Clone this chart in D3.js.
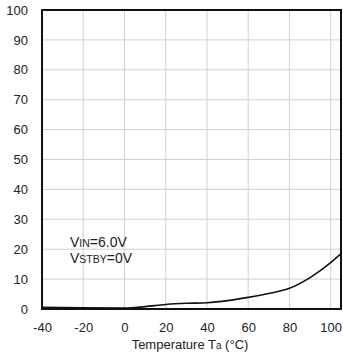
<!DOCTYPE html>
<html>
<head>
<meta charset="utf-8">
<script src="https://cdn.jsdelivr.net/npm/d3@7"></script>
<style>
body { margin: 0; background: #fff; }
text { font-family: "Liberation Sans", Arial, sans-serif; fill: #222; }
</style>
</head>
<body>
<svg width="343" height="354"></svg>
<script>
// curve values
var temps = [-40, -20, 0, 10, 20, 30, 40, 50, 60, 70, 80, 90, 100, 105];
var current = [0.6, 0.4, 0.3, 0.8, 1.5, 1.9, 2.1, 2.8, 3.9, 5.2, 6.9, 10.5, 15.5, 18.5];
var xTicks = [-40, -20, 0, 20, 40, 60, 80, 100];
var yTicks = [0, 10, 20, 30, 40, 50, 60, 70, 80, 90, 100];

var svg = d3.select("svg"),
    plotLeft = 42, plotRight = 341, plotTop = 10, plotBottom = 309;

var x = d3.scaleLinear().domain([-40, 105]).range([plotLeft, plotRight]);
var y = d3.scaleLinear().domain([0, 100]).range([plotBottom, plotTop]);

// grid
svg.append("g")
    .selectAll("line")
    .data(xTicks.slice(1))
    .enter().append("line")
    .attr("x1", function(d) { return x(d); })
    .attr("x2", function(d) { return x(d); })
    .attr("y1", plotTop).attr("y2", plotBottom)
    .attr("stroke", "#d0d0d0").attr("stroke-width", 1);

svg.append("g")
    .selectAll("line")
    .data(yTicks.slice(1, -1))
    .enter().append("line")
    .attr("x1", plotLeft).attr("x2", plotRight)
    .attr("y1", function(d) { return y(d); })
    .attr("y2", function(d) { return y(d); })
    .attr("stroke", "#d0d0d0").attr("stroke-width", 1);

// axes (labels only, frame drawn separately); plain hyphen for negatives
var xAxis = svg.append("g")
    .attr("transform", "translate(0," + plotBottom + ")")
    .call(d3.axisBottom(x).tickValues(xTicks).tickFormat(String).tickSize(0).tickPadding(14));
var yAxis = svg.append("g")
    .attr("transform", "translate(" + plotLeft + ",0)")
    .call(d3.axisLeft(y).tickValues(yTicks).tickFormat(String).tickSize(0).tickPadding(14));
[xAxis, yAxis].forEach(function(a) {
    a.select(".domain").remove();
    a.selectAll("text").attr("font-size", 13).attr("fill", "#222")
        .attr("font-family", "Liberation Sans, Arial, sans-serif");
});

// frame
svg.append("rect")
    .attr("x", plotLeft).attr("y", plotTop)
    .attr("width", plotRight - plotLeft).attr("height", plotBottom - plotTop)
    .attr("fill", "none").attr("stroke", "#111").attr("stroke-width", 2);

// curve
var line = d3.line()
    .x(function(d, i) { return x(temps[i]); })
    .y(function(d) { return y(d); })
    .curve(d3.curveMonotoneX);

svg.append("path")
    .datum(current)
    .attr("d", line)
    .attr("fill", "none")
    .attr("stroke", "#111")
    .attr("stroke-width", 1.6);

// condition note
var note = svg.append("text").attr("x", 70).attr("y", 247).attr("font-size", 14);
note.append("tspan").text("V");
note.append("tspan").attr("font-size", 10.5).text("IN");
note.append("tspan").text("=6.0V");
var note2 = svg.append("text").attr("x", 70).attr("y", 263).attr("font-size", 14);
note2.append("tspan").text("V");
note2.append("tspan").attr("font-size", 10.5).text("STBY");
note2.append("tspan").text("=0V");

// x title
var title = svg.append("text")
    .attr("x", 190).attr("y", 349)
    .attr("text-anchor", "middle")
    .attr("font-size", 13);
title.append("tspan").text("Temperature T");
title.append("tspan").attr("font-size", 10).text("a");
title.append("tspan").text(" (°C)");
</script>
</body>
</html>
